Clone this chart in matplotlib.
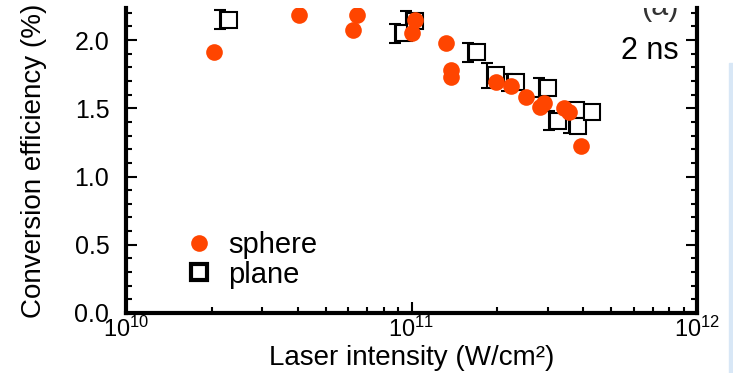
import numpy as np
import matplotlib
matplotlib.use("Agg")
import matplotlib.pyplot as plt
from matplotlib.patches import Rectangle
from matplotlib.ticker import MultipleLocator, FormatStrFormatter, LogLocator

plt.rcParams['font.family'] = ['Liberation Sans', 'DejaVu Sans']
plt.rcParams['mathtext.fontset'] = 'custom'
plt.rcParams['mathtext.rm'] = 'Liberation Sans'
plt.rcParams['mathtext.it'] = 'Liberation Sans:italic'

# sphere targets (laser intensity W/cm2, conversion efficiency %)
sphere_x = [2.03e10, 4.03e10, 6.42e10, 6.26e10, 1.03e11, 1.00e11, 1.316e11, 1.37e11, 1.37e11,
            1.98e11, 2.24e11, 2.51e11, 2.82e11, 2.92e11, 3.43e11, 3.56e11, 3.93e11]
sphere_y = [1.91, 2.18, 2.18, 2.07, 2.15, 2.05, 1.98, 1.78, 1.73,
            1.69, 1.66, 1.58, 1.51, 1.54, 1.50, 1.47, 1.22]

# plane targets
plane_x = [2.29e10, 9.45e10, 1.03e11, 1.70e11, 1.98e11, 2.33e11, 3.01e11, 3.27e11, 3.78e11, 3.84e11, 4.30e11]
plane_y = [2.15, 2.05, 2.14, 1.91, 1.74, 1.69, 1.65, 1.41, 1.49, 1.37, 1.47]
plane_err = [0.07, 0.07, 0.07, 0.07, 0.09, 0.06, 0.07, 0.07, 0.05, 0.05, 0.05]

fig = plt.figure(figsize=(7.33, 3.73), dpi=100)
ax = fig.add_axes([126/733, 60/373, 571/733, 305/373])

# error bars sit at the left edge of each square in the original
err_shift = 0.93
ax.errorbar(np.array(plane_x) * err_shift, plane_y, yerr=plane_err, fmt='none',
            ecolor='k', elinewidth=1.5, capsize=4, capthick=1.5, zorder=2)
ax.plot(plane_x, plane_y, 's', mfc='white', mec='k', ms=12, mew=1.5, label='plane', zorder=3)
ax.plot(sphere_x, sphere_y, 'o', color='#ff4500', ms=12, mec='none', label='sphere', zorder=4)

ax.set_xscale('log')
ax.set_xlim(1e10, 1e12)
ax.set_ylim(0, 305/136.5)

ax.yaxis.set_major_locator(MultipleLocator(0.5))
ax.yaxis.set_minor_locator(MultipleLocator(0.1))
ax.yaxis.set_major_formatter(FormatStrFormatter('%.1f'))
ax.xaxis.set_major_locator(LogLocator(base=10))
ax.xaxis.set_minor_locator(LogLocator(base=10, subs=np.arange(2, 10)))

ax.spines['top'].set_visible(False)
for s in ['left', 'right', 'bottom']:
    ax.spines[s].set_linewidth(3)
ax.tick_params(which='both', direction='in', right=True, top=False, width=1.5)
ax.tick_params(which='major', length=8, labelsize=18)
ax.tick_params(which='minor', length=4.5)
ax.tick_params(axis='y', pad=12)
ax.tick_params(axis='x', pad=3, labelsize=17)

ax.set_xlabel('Laser intensity (W/cm²)', fontsize=20, va='baseline')
ax.xaxis.set_label_coords(0.5, -52/305)
ax.set_ylabel('Conversion efficiency (%)', fontsize=20, labelpad=20)

h, l = ax.get_legend_handles_labels()
leg = ax.legend([h[1], h[0]], [l[1], l[0]], loc='lower left', bbox_to_anchor=(0.1025, 0.08),
                frameon=False, fontsize=21, handlelength=1.0, handletextpad=0.5,
                borderpad=0, borderaxespad=0, labelspacing=0.05, numpoints=1)
leg.legend_handles[1].set_markeredgewidth(3)

ax.text(0.967, 0.859, '2 ns', transform=ax.transAxes, ha='right', va='center', fontsize=22)
ax.text(0.967, 0.955, '(a)', transform=ax.transAxes, ha='right', va='bottom', fontsize=22,
        color='#333333', clip_on=True)

fig.patches.append(Rectangle((729/733, 0), 4/733, 310/373, transform=fig.transFigure,
                             color='#d8e7f6', zorder=0))

plt.savefig('out.png', dpi=100)
